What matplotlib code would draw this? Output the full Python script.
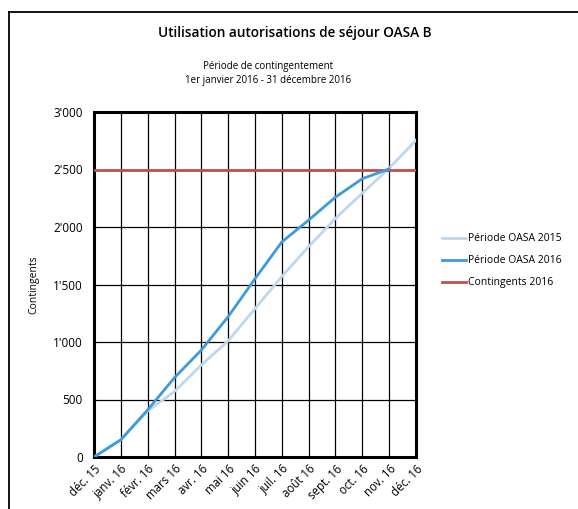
import matplotlib.pyplot as plt
from matplotlib.ticker import FuncFormatter
from matplotlib.lines import Line2D

plt.rcParams['font.family'] = ['Open Sans', 'DejaVu Sans']

mois = ['déc. 15', 'janv. 16', 'févr. 16', 'mars 16', 'avr. 16', 'mai 16', 'juin 16',
        'juil. 16', 'août 16', 'sept. 16', 'oct. 16', 'nov. 16', 'déc. 16']
oasa_2015 = [0, 150, 400, 570, 800, 1010, 1290, 1570, 1830, 2075, 2295, 2510, 2755]
oasa_2016 = [0, 150, 410, 690, 930, 1220, 1550, 1870, 2060, 2260, 2420, 2505]
contingents = [2500] * 13

fig = plt.figure(figsize=(5.78, 5.09), dpi=100)
ax = fig.add_axes([94/578, 1-457/509, (416-94)/578, (457-112)/509])

x = list(range(len(mois)))
ax.plot(x, oasa_2015, color='#BDD7EE', lw=2, label='Période OASA 2015', zorder=3)
ax.plot(x[:len(oasa_2016)], oasa_2016, color='#3D9BD9', lw=2, label='Période OASA 2016', zorder=4)
ax.plot(x, contingents, color='#C0504D', lw=2, label='Contingents 2016', zorder=3)

ax.set_xlim(0, 12)
ax.set_ylim(0, 3000)
ax.set_xticks(x)
ax.set_xticklabels(mois, rotation=45, ha='right', rotation_mode='anchor', fontsize=8.3)
ax.set_yticks(range(0, 3001, 500))
ax.yaxis.set_major_formatter(FuncFormatter(lambda v, p: f"{int(v):,}".replace(',', "'")))
ax.tick_params(axis='y', labelsize=8.5, length=0, pad=8)
ax.tick_params(axis='x', length=0, pad=4)
ax.grid(True, color='black', lw=0.9)
ax.set_axisbelow(True)
for s in ax.spines.values():
    s.set_linewidth(2.2)
ax.set_ylabel('Contingents', fontsize=7.5, labelpad=10)

# titres
fig.text(295/578, 1-33/509, 'Utilisation autorisations de séjour OASA B',
         ha='center', va='center', fontsize=9.8, fontweight='semibold')
fig.text(268/578, 1-67/509, 'Période de contingentement', ha='center', va='center', fontsize=7)
fig.text(268/578, 1-81/509, '1er janvier 2016 - 31 décembre 2016', ha='center', va='center', fontsize=7)

ax.legend(loc='upper left', bbox_to_anchor=(433/578, 1-224/509), bbox_transform=fig.transFigure,
          frameon=False, fontsize=7.5, handlelength=2.3, handletextpad=0.2, labelspacing=1.05)

# cadre
fig.add_artist(Line2D([9/578, 9/578], [0, 1-12/509], transform=fig.transFigure, color='black', lw=1.3))
fig.add_artist(Line2D([9/578, 1], [1-12/509, 1-12/509], transform=fig.transFigure, color='black', lw=1.3))

fig.savefig('out.png', dpi=100)
